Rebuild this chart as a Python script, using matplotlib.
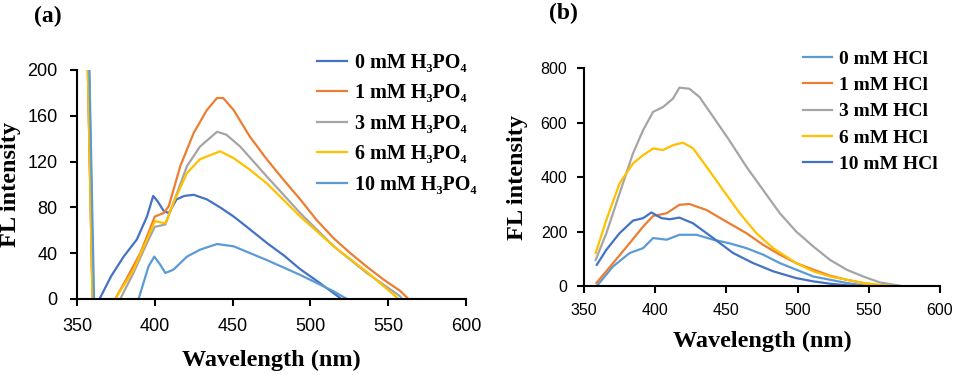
import matplotlib
matplotlib.use('Agg')
import matplotlib.pyplot as plt

SERIF = ['Liberation Serif', 'DejaVu Serif']
SANS = ['Liberation Sans', 'DejaVu Sans']

BLUE = '#4472C4'
ORANGE = '#ED7D31'
GRAY = '#A5A5A5'
YELLOW = '#FFC000'
LIGHT_BLUE = '#5B9BD5'

# ---- panel (a): H3PO4 ----
labels_a = ['0 mM H\u2083PO\u2084', '1 mM H\u2083PO\u2084', '3 mM H\u2083PO\u2084',
            '6 mM H\u2083PO\u2084', '10 mM H\u2083PO\u2084']
colors_a = [BLUE, ORANGE, GRAY, YELLOW, LIGHT_BLUE]

wl_a_0 = [356, 360.5, 361.5, 364.5, 372, 380, 388.5, 395, 399, 402, 405.7, 409,
          414, 419, 425, 433.5, 442, 450.7, 461, 472, 483, 493.5, 505, 515, 519, 522]
fl_a_0 = [330, 0, -3, 0, 20, 37, 52, 72, 90, 85, 77, 75,
          87, 90, 91, 87, 80, 72, 61, 49, 38, 26, 15, 5, 1, -4]

wl_a_1 = [356, 360, 364, 374.6, 382, 390.7, 396, 400, 405.7, 409, 416.4, 425,
          433.5, 440, 444, 450.7, 461, 472, 482.8, 493.5, 504, 515, 525.7, 536,
          547, 557.8, 563, 566]
fl_a_1 = [266, 0, -30, 0, 18, 40, 58, 72, 75, 81, 116, 145,
          165, 175.5, 175.5, 165, 142, 122, 104, 87, 69, 53, 40, 28.5,
          17, 7, 0, -4]

wl_a_3 = [356, 360, 364, 377.8, 386.4, 395, 400, 406.8, 412, 420.7, 429, 440,
          446, 455, 472, 493.5, 515, 536, 557.8, 559, 562]
fl_a_3 = [266, 0, -30, 0, 23, 49, 63, 65, 84, 116, 133, 146,
          143.5, 133, 107, 75, 46, 23, 2.3, 0, -4]

wl_a_6 = [356, 360, 364, 374.6, 386.4, 395, 400, 406.8, 412, 420.7, 429, 442,
          450.7, 461, 472, 493.5, 515, 536, 556.7, 560]
fl_a_6 = [266, 0, -30, 0, 25.6, 52, 68, 66, 84, 110, 122, 129,
          123, 113, 101, 72, 46, 24, 0, -4]

wl_a_10 = [357, 361, 365, 389.6, 396, 399.7, 403.5, 406.8, 412, 420.7, 429, 440,
           450.7, 472, 493.5, 515, 523.5, 527]
fl_a_10 = [266, 0, -30, 0, 28.5, 37, 30, 22.7, 25.6, 37, 43, 48,
           46, 34, 21, 6.7, 0, -4]

# ---- panel (b): HCl ----
labels_b = ['0 mM HCl', '1 mM HCl', '3 mM HCl', '6 mM HCl', '10 mM HCl']
colors_b = [LIGHT_BLUE, ORANGE, GRAY, YELLOW, BLUE]

wl_b_0 = [359.8, 370.4, 382, 391.5, 398.5, 408, 417, 429, 440.7, 452, 464,
          475.8, 487.5, 499, 511, 522.7, 534.4, 546, 557.8]
fl_b_0 = [5, 72, 121, 139, 176, 170, 188, 188, 170, 157, 139,
          115, 84, 60, 35, 23, 11, 2.4, 0]

wl_b_1 = [358.7, 370.4, 382, 391.5, 398.5, 408, 417, 424, 436, 447.7, 464,
          475.8, 487.5, 499, 511, 522.7, 534.4, 546, 557.8, 565]
fl_b_1 = [11, 84, 157, 218, 257, 267, 298, 301, 279, 243, 194,
          151, 115, 84, 60, 38, 23, 11, 2.4, 0]

wl_b_3 = [358.2, 365.7, 375, 384.4, 391.5, 398.5, 405.5, 412.5, 417, 424, 431,
          440.7, 452, 464, 475.8, 487.5, 499, 511, 522.7, 534.4, 546, 557.8, 573]
fl_b_3 = [96, 194, 340, 487, 572, 639, 657, 688, 728, 724, 694,
          621, 535, 438, 352, 267, 200, 145, 96, 60, 35, 13, 0]

wl_b_6 = [358.2, 365.7, 375, 384.4, 391.5, 398.5, 405.5, 412.5, 419.6, 426.6,
          436, 447.7, 459.4, 471, 482.8, 499, 511, 522.7, 534.4, 546, 557.8, 567]
fl_b_6 = [121, 243, 377, 450, 480, 505, 499, 517, 526, 505,
          438, 352, 267, 194, 139, 84, 54, 35, 23, 11, 4, 0]

wl_b_10 = [359, 365.7, 375, 384.4, 391.5, 397.3, 404.4, 410.2, 417, 426.6,
           440.7, 454.7, 468.8, 482.8, 499, 511, 522.7, 534.4, 541.4]
fl_b_10 = [78, 133, 194, 240, 249, 270, 249, 245, 251, 230,
           176, 121, 84, 54, 29, 17, 8.5, 2.4, 0]

series_a = [(wl_a_0, fl_a_0), (wl_a_1, fl_a_1), (wl_a_3, fl_a_3),
            (wl_a_6, fl_a_6), (wl_a_10, fl_a_10)]
series_b = [(wl_b_0, fl_b_0), (wl_b_1, fl_b_1), (wl_b_3, fl_b_3),
            (wl_b_6, fl_b_6), (wl_b_10, fl_b_10)]


def style_axes(ax, ymax, ystep, tick_size, xpad, ypad):
    ax.set_xlim(350, 600)
    ax.set_ylim(0, ymax)
    ax.set_xticks(range(350, 601, 50))
    ax.set_yticks(range(0, ymax + 1, ystep))
    for side in ['top', 'right']:
        ax.spines[side].set_visible(False)
    for side in ['left', 'bottom']:
        ax.spines[side].set_linewidth(1.5)
    ax.tick_params(direction='out', length=5, width=1.5, labelsize=tick_size)
    ax.tick_params(axis='x', pad=xpad)
    ax.tick_params(axis='y', pad=ypad)
    for lab in ax.get_xticklabels() + ax.get_yticklabels():
        lab.set_family(SANS)
    ax.set_xlabel('Wavelength (nm)', family=SERIF, weight='bold', fontsize=17.5)
    ax.set_ylabel('FL intensity', family=SERIF, weight='bold', fontsize=17.5)


fig = plt.figure(figsize=(9.56, 3.75), dpi=100)
ax_a = fig.add_axes([0.0805, 0.2027, 0.4069, 0.6107])
ax_b = fig.add_axes([0.6109, 0.2373, 0.3724, 0.5813])

for (x, y), c, lab in zip(series_a, colors_a, labels_a):
    ax_a.plot(x, y, color=c, lw=1.6, label=lab)
for (x, y), c, lab in zip(series_b, colors_b, labels_b):
    ax_b.plot(x, y, color=c, lw=1.6, label=lab)

style_axes(ax_a, 200, 40, 13, 9, 9)
style_axes(ax_b, 800, 200, 11.5, 7.5, 7)
ax_a.yaxis.set_label_coords(-0.144, 0.5)
ax_a.xaxis.set_label_coords(0.5, -0.22)
ax_b.yaxis.set_label_coords(-0.157, 0.5)
ax_b.xaxis.set_label_coords(0.5, -0.205)

ax_a.legend(loc='upper left', bbox_to_anchor=(317 / 956, 1 - 53 / 375),
            bbox_transform=fig.transFigure, frameon=False,
            prop={'family': SERIF, 'weight': 'bold', 'size': 14.5},
            handlelength=1.5, handletextpad=0.4, labelspacing=0.52,
            borderaxespad=0, borderpad=0)
ax_b.legend(loc='upper left', bbox_to_anchor=(803 / 956, 1 - 50 / 375),
            bbox_transform=fig.transFigure, frameon=False,
            prop={'family': SERIF, 'weight': 'bold', 'size': 14},
            handlelength=1.5, handletextpad=0.35, labelspacing=0.45,
            borderaxespad=0, borderpad=0)

fig.text(48 / 956, 1 - 16 / 375, '(a)', family=SERIF, weight='bold',
         fontsize=17, ha='center', va='center')
fig.text(563 / 956, 1 - 13 / 375, '(b)', family=SERIF, weight='bold',
         fontsize=17, ha='center', va='center')

fig.savefig('out.png', dpi=100)
